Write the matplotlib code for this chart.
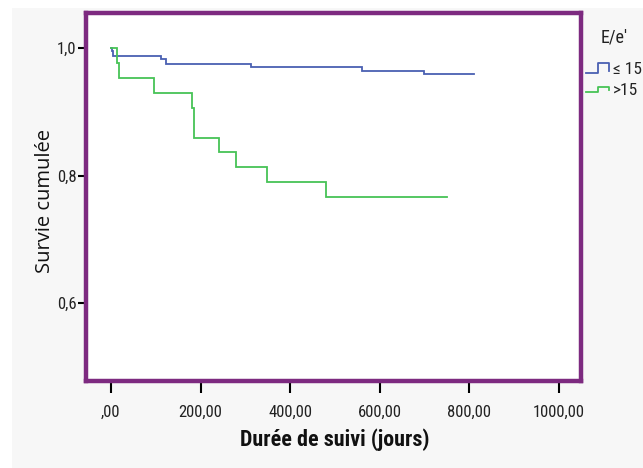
import matplotlib
matplotlib.use("Agg")
import matplotlib.pyplot as plt
from matplotlib.lines import Line2D
from matplotlib.patches import Rectangle

# ---- data ----
group_labels = ["≤ 15", ">15"]
legend_title = "E/e'"
times_low = [0, 2, 5, 112, 123, 313, 560, 700, 811]
surv_low = [1.0, 0.996, 0.988, 0.983, 0.976, 0.971, 0.965, 0.960, 0.960]
times_high = [0, 13, 18.5, 97, 182, 186, 242, 279, 348, 480, 750]
surv_high = [1.0, 0.977, 0.953, 0.930, 0.907, 0.860, 0.837, 0.814, 0.791, 0.767, 0.767]
xticks = [0, 200, 400, 600, 800, 1000]
xtick_labels = [",00", "200,00", "400,00", "600,00", "800,00", "1000,00"]
yticks = [0.6, 0.8, 1.0]
ytick_labels = ["0,6", "0,8", "1,0"]
xlabel = "Durée de suivi (jours)"
ylabel = "Survie cumulée"

W, H = 643, 468
NARROW = ["Liberation Sans Narrow", "Roboto Condensed", "Liberation Sans", "DejaVu Sans"]
BLUE = "#4a60b2"
GREEN = "#47c356"
PURPLE = "#7d2a80"

fig = plt.figure(figsize=(W / 100, H / 100), dpi=100, facecolor="white")
fig.add_artist(Rectangle((12 / W, 0), 1 - 12 / W, 1 - 8 / H, transform=fig.transFigure,
                         facecolor="#f7f7f7", edgecolor="none", zorder=-10))

def fx(px):
    return px / W

def fy(py):
    return 1 - py / H

ax = fig.add_axes([fx(86), fy(380.5), fx(581) - fx(86), fy(13) - fy(380.5)])
ax.set_facecolor("white")
for s in ax.spines.values():
    s.set_color(PURPLE)
    s.set_linewidth(3.2)

ax.step(times_low, surv_low, where="post", color=BLUE, lw=1.3, solid_joinstyle="miter")
ax.step(times_high, surv_high, where="post", color=GREEN, lw=1.3, solid_joinstyle="miter")

ax.set_xlim(-55.8, 1049.6)
ax.set_ylim(0.4789, 1.0554)
ax.set_xticks(xticks)
ax.set_xticklabels(xtick_labels, fontfamily=NARROW, fontsize=12, color="#222222")
ax.set_yticks(yticks)
ax.set_yticklabels(ytick_labels, fontfamily=NARROW, fontsize=12, color="#222222")
ax.tick_params(axis="x", length=8.3, width=1.5, color="black", pad=9)
ax.tick_params(axis="y", length=6, width=1.5, color="black", pad=1)
ax.minorticks_off()

fig.text(fx(335), fy(440), xlabel, ha="center", va="center", fontsize=15.8,
         fontweight="bold", fontfamily=NARROW, color="#111111")
fig.text(fx(45), fy(201), ylabel, ha="center", va="center", rotation=90,
         fontsize=14.5, fontfamily=["Open Sans", "DejaVu Sans"], color="#111111")

# legend
fig.text(fx(601), fy(37), legend_title, ha="left", va="center", fontsize=13,
         fontfamily=NARROW, color="#222222")
for (lo, hi, col, lab) in [(72.7, 63.3, BLUE, group_labels[0]), (92.3, 86.7, GREEN, group_labels[1])]:
    xs = [fx(586), fx(598), fx(598), fx(609), fx(609)]
    ys = [fy(lo), fy(lo), fy(hi), fy(hi), fy(lo - 2)]
    fig.add_artist(Line2D(xs, ys, transform=fig.transFigure, color=col, lw=1.3))
    fig.text(fx(613), fy((lo + hi) / 2 + 1), lab, ha="left", va="center", fontsize=12.5,
             fontfamily=NARROW, color="#222222")

fig.savefig("out.png", dpi=100, facecolor=fig.get_facecolor())
